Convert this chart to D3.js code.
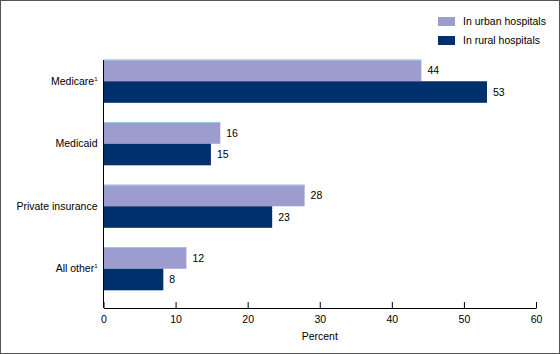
<!DOCTYPE html>
<html>
<head>
<meta charset="utf-8">
<script src="https://cdn.jsdelivr.net/npm/d3@7"></script>
<style>
  body { margin: 0; background: #fff; }
  text { font-family: "Liberation Sans", Arial, sans-serif; fill: #000; }
</style>
</head>
<body>
<div id="chart"></div>
<script>
const categories = ['Medicare', 'Medicaid', 'Private insurance', 'All other'];
const footnoted = ['Medicare', 'All other'];
const seriesNames = ['In urban hospitals', 'In rural hospitals'];
// bar lengths; labels show them rounded
const urbanValues = [44.1, 16.2, 27.9, 11.5];
const ruralValues = [53.2, 14.9, 23.4, 8.3];
const xTicks = [0, 10, 20, 30, 40, 50, 60];

const width = 560;
const height = 354;
const colors = ['#9c9ccf', '#00306b'];

const svg = d3.select('#chart')
              .append('svg')
              .attr('width', width)
              .attr('height', height);

// outer frame
svg.append('rect')
   .attr('x', 0.5).attr('y', 0.5)
   .attr('width', width - 1).attr('height', height - 1)
   .attr('fill', 'none')
   .attr('stroke', '#555');

const left = 103.5;
const right = 536;
const axisY = 308;

const xScale = d3.scaleLinear()
                 .domain([0, 60])
                 .range([left, right]);

const yScale = d3.scaleBand()
                 .domain(categories)
                 .range([50, 300])
                 .paddingInner(0.31)
                 .paddingOuter(0.155);

const inner = d3.scaleBand()
                .domain(seriesNames)
                .range([0, yScale.bandwidth()]);

const rows = categories.map((c, i) => ({
  category: c,
  values: [urbanValues[i], ruralValues[i]]
}));

const groups = svg.selectAll('.group')
                  .data(rows)
                  .enter()
                  .append('g')
                  .attr('transform', d => 'translate(0,' + yScale(d.category) + ')');

const bars = d => d.values.map((v, j) => ({ v: v, s: seriesNames[j], j: j }));

groups.selectAll('rect')
      .data(bars)
      .enter()
      .append('rect')
      .attr('x', xScale(0))
      .attr('y', d => inner(d.s))
      .attr('width', d => xScale(d.v) - xScale(0))
      .attr('height', inner.bandwidth())
      .attr('fill', d => colors[d.j]);

// thin light edge on top of the urban bars
groups.selectAll('.edge')
      .data(d => bars(d).filter(b => b.j === 0))
      .enter()
      .append('line')
      .attr('x1', xScale(0))
      .attr('x2', d => xScale(d.v))
      .attr('y1', d => inner(d.s) + 0.5)
      .attr('y2', d => inner(d.s) + 0.5)
      .attr('stroke', '#94cbe8');

groups.selectAll('.val')
      .data(bars)
      .enter()
      .append('text')
      .attr('x', d => xScale(d.v) + 6)
      .attr('y', d => inner(d.s) + inner.bandwidth() / 2)
      .attr('dy', '0.35em')
      .attr('font-size', 10.5)
      .text(d => Math.round(d.v));

// category labels
const catLabels = svg.selectAll('.cat')
                     .data(categories)
                     .enter()
                     .append('text')
                     .attr('x', left - 6)
                     .attr('y', d => yScale(d) + yScale.bandwidth() / 2)
                     .attr('dy', '0.35em')
                     .attr('text-anchor', 'end')
                     .attr('font-size', 10.5);
catLabels.append('tspan').text(d => d);
catLabels.filter(d => footnoted.includes(d))
         .append('tspan')
         .attr('font-size', 6)
         .attr('dy', '-0.7em')
         .text('1');

// y axis line
svg.append('line')
   .attr('x1', left).attr('x2', left)
   .attr('y1', 60).attr('y2', axisY)
   .attr('stroke', '#000');

// x axis, ticks pointing up
const xAxis = d3.axisBottom(xScale)
                .tickValues(xTicks)
                .tickSize(0)
                .tickPadding(8);

const gx = svg.append('g')
              .attr('transform', 'translate(0,' + axisY + ')')
              .call(xAxis);
gx.select('.domain').attr('stroke', '#000');
gx.selectAll('.tick line').attr('y2', -6).attr('stroke', '#000');
gx.selectAll('.tick text')
  .attr('font-size', 10.5)
  .attr('font-family', '"Liberation Sans", Arial, sans-serif')
  .attr('fill', '#000');

svg.append('text')
   .attr('x', (left + right) / 2)
   .attr('y', 340)
   .attr('text-anchor', 'middle')
   .attr('font-size', 10.5)
   .text('Percent');

// legend
const legend = svg.selectAll('.legend')
                  .data(seriesNames)
                  .enter()
                  .append('g')
                  .attr('transform', (d, i) => 'translate(438,' + (17 + i * 19) + ')');
legend.append('rect')
      .attr('width', 17)
      .attr('height', 9)
      .attr('fill', (d, i) => colors[i]);
legend.append('text')
      .attr('x', 25)
      .attr('y', 4.5)
      .attr('dy', '0.35em')
      .attr('font-size', 10.5)
      .text(d => d);
</script>
</body>
</html>
